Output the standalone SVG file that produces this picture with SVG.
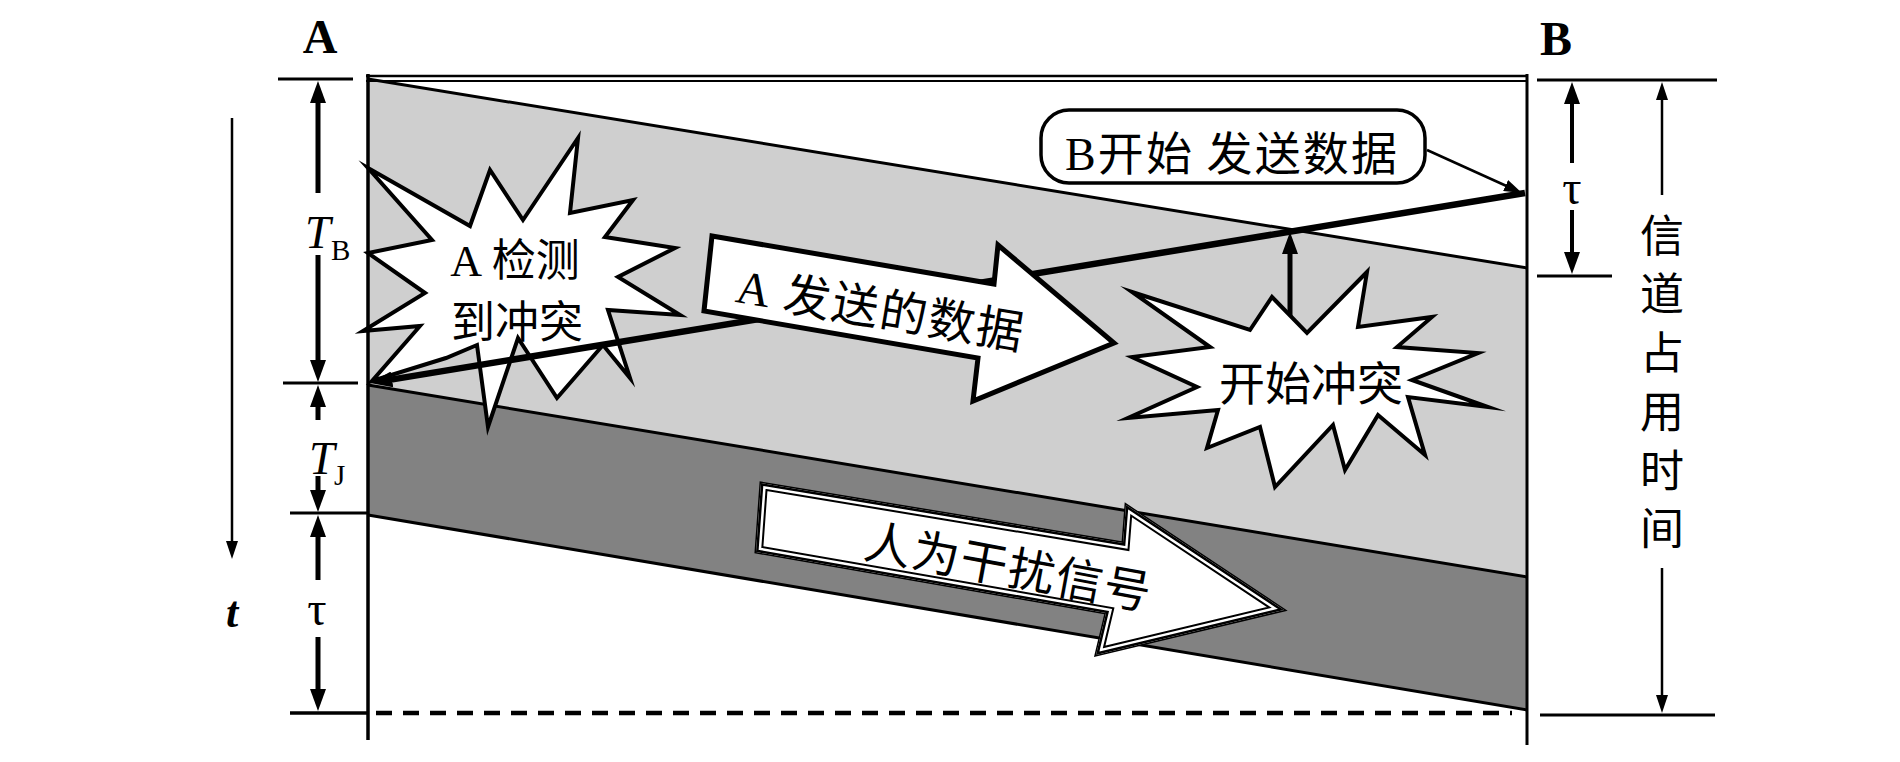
<svg xmlns="http://www.w3.org/2000/svg" width="1900" height="762" viewBox="0 0 1900 762">
<defs>
<style>
.ln{stroke:#000;fill:none;stroke-width:3}
.dim{stroke:#000;stroke-width:5;fill:none;marker-end:url(#ah)}
.thin{stroke:#000;stroke-width:2.5;fill:none;marker-end:url(#ahs)}
.cjk{font-family:"Noto Sans CJK SC","Noto Sans",sans-serif;fill:#000}
.ser{font-family:"Liberation Serif",serif;fill:#000}
.node{fill:#fff;stroke:#000;stroke-width:4;stroke-linejoin:miter;stroke-miterlimit:12}
</style>
<marker id="ah" markerUnits="userSpaceOnUse" markerWidth="24" markerHeight="16" refX="1" refY="8" orient="auto"><path d="M0,0 L22,8 L0,16 z" fill="#000"/></marker>
<marker id="ahs" markerUnits="userSpaceOnUse" markerWidth="20" markerHeight="12" refX="1" refY="6" orient="auto"><path d="M0,0 L18,6 L0,12 z" fill="#000"/></marker>
<clipPath id="cpJ"><polygon points="761,483 1123,543 1126,505 1284,610 1096,655 1106,613 756,552"/></clipPath>
</defs>
<rect width="1900" height="762" fill="#fff"/>

<g id="bands">
<polygon points="368,80 1527,268 1527,577 368,385" fill="#cfcfcf"/>
<polygon points="368,385 1527,577 1527,710 368,515" fill="#828282"/>
<line class="ln" x1="368" y1="79" x2="1527" y2="268"/>
<line class="ln" x1="368" y1="385" x2="1527" y2="577"/>
<line class="ln" x1="368" y1="515" x2="1527" y2="710"/>
</g>

<g id="frame">
<line class="ln" x1="366" y1="76" x2="1528" y2="76" style="stroke-width:2.5"/>
<line class="ln" x1="366" y1="81" x2="1528" y2="81" style="stroke-width:2"/>
<line class="ln" x1="368" y1="74" x2="368" y2="740" style="stroke-width:3.5"/>
<line class="ln" x1="1527" y1="74" x2="1527" y2="745"/>
<line class="ln" x1="278" y1="79" x2="353" y2="79"/>
<line class="ln" x1="283" y1="383" x2="358" y2="383"/>
<line class="ln" x1="290" y1="513" x2="368" y2="513"/>
<line class="ln" x1="290" y1="713" x2="368" y2="713" style="stroke-width:3.5"/>
<line class="ln" x1="376" y1="713" x2="1512" y2="713" style="stroke-width:4.5" stroke-dasharray="16 11"/>
<line class="ln" x1="1537" y1="80" x2="1717" y2="80"/>
<line class="ln" x1="1537" y1="276" x2="1612" y2="276"/>
<line class="ln" x1="1540" y1="715" x2="1715" y2="715"/>
</g>

<g id="node-detect">
<polygon class="node" points="368,168 470,226 490,170 523,220 578,138 570,213 633,200 605,237 675,248 618,277 680,315 608,310 630,378 603,345 557,398 518,338 488,427 477,345 446,358 372,381 420,326 363,331 425,293 368,253 432,240"/>
<text class="cjk" x="515" y="276" font-size="44" text-anchor="middle"><tspan class="ser">A</tspan> 检测</text>
<text class="cjk" x="517" y="338" font-size="44" text-anchor="middle">到冲突</text>
</g>

<g id="connectors">
<line x1="1525" y1="193" x2="391" y2="379.6" stroke="#000" stroke-width="6.5" marker-end="url(#ah)"/>
<line class="thin" x1="1427" y1="150" x2="1506.5" y2="186"/>
<line class="dim" x1="1290" y1="318" x2="1290" y2="253"/>
<line class="dim" x1="318" y1="193" x2="318" y2="102"/>
<line class="dim" x1="318" y1="255" x2="318" y2="361"/>
<line class="dim" x1="318" y1="420" x2="318" y2="406"/>
<line class="dim" x1="318" y1="476" x2="318" y2="491"/>
<line class="dim" x1="318" y1="580" x2="318" y2="536"/>
<line class="dim" x1="318" y1="637" x2="318" y2="690"/>
<line class="dim" x1="1572" y1="163" x2="1572" y2="103" style="stroke-width:4"/>
<line class="dim" x1="1572" y1="210" x2="1572" y2="253" style="stroke-width:4"/>
<line class="thin" x1="232" y1="118" x2="232" y2="542"/>
<line class="thin" x1="1662" y1="195" x2="1662" y2="99"/>
<line class="thin" x1="1662" y1="568" x2="1662" y2="696"/>
</g>

<g id="node-adata">
<polygon class="node" points="712,236 994,284 998,245 1114,343 973,401 978,358 704,311" style="stroke-width:5"/>
<text class="cjk" x="880" y="326" font-size="47" text-anchor="middle" textLength="290" lengthAdjust="spacing" transform="rotate(9.5 880 309)"><tspan class="ser">A</tspan> 发送的数据</text>
</g>

<g id="node-collide">
<polygon class="node" points="1132,292 1250,330 1272,297 1307,333 1367,272 1358,327 1432,317 1397,347 1478,353 1412,380 1488,407 1408,397 1425,455 1378,415 1345,470 1333,425 1275,487 1260,427 1207,448 1218,410 1128,418 1197,387 1132,357 1210,347"/>
<text class="cjk" x="1311" y="400" font-size="46" text-anchor="middle">开始冲突</text>
</g>

<g id="node-jam">
<polygon points="761,483 1123,543 1126,505 1284,610 1096,655 1106,613 756,552" fill="#fff" stroke="#000" stroke-width="3"/>
<g clip-path="url(#cpJ)" fill="none">
<polygon points="761,483 1123,543 1126,505 1284,610 1096,655 1106,613 756,552" stroke="#000" stroke-width="14"/>
<polygon points="761,483 1123,543 1126,505 1284,610 1096,655 1106,613 756,552" stroke="#fff" stroke-width="10"/>
<polygon points="761,483 1123,543 1126,505 1284,610 1096,655 1106,613 756,552" stroke="#000" stroke-width="5"/>
</g>
<text class="cjk" x="1008" y="584" font-size="47" text-anchor="middle" textLength="290" lengthAdjust="spacing" transform="rotate(10.5 1008 566)">人为干扰信号</text>
</g>

<g id="node-bstart">
<rect x="1041" y="110" width="384" height="73" rx="28" fill="#fff" stroke="#000" stroke-width="3.5"/>
<text class="cjk" x="1065" y="170" font-size="46" textLength="332" lengthAdjust="spacing"><tspan class="ser">B</tspan>开始 发送数据</text>
</g>

<g id="labels">
<text class="ser" x="320" y="53" font-size="48" font-weight="bold" text-anchor="middle">A</text>
<text class="ser" x="1556" y="55" font-size="48" font-weight="bold" text-anchor="middle">B</text>
<text class="ser" x="305" y="248" font-size="46" font-style="italic">T</text>
<text class="ser" x="331" y="260" font-size="29">B</text>
<text class="ser" x="309" y="474" font-size="46" font-style="italic">T</text>
<text class="ser" x="334" y="485" font-size="29">J</text>
<text class="ser" x="317" y="625" font-size="48" text-anchor="middle">τ</text>
<text class="ser" x="1572" y="204" font-size="48" text-anchor="middle">τ</text>
<text class="ser" x="232" y="627" font-size="44" font-style="italic" font-weight="bold" text-anchor="middle">t</text>
<g class="cjk" font-size="44" text-anchor="middle">
<text x="1662" y="252">信</text>
<text x="1662" y="310">道</text>
<text x="1662" y="369">占</text>
<text x="1662" y="428">用</text>
<text x="1662" y="487">时</text>
<text x="1662" y="545">间</text>
</g>
</g>
</svg>
